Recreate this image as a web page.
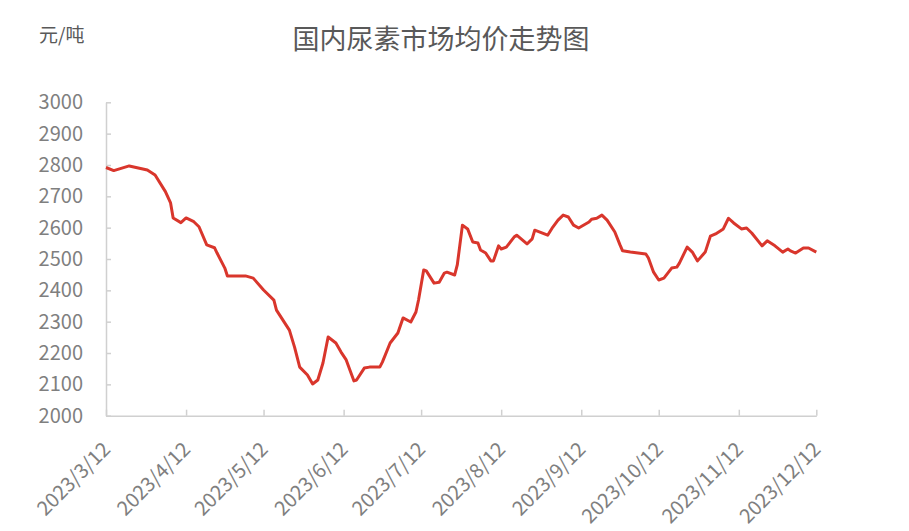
<!DOCTYPE html>
<html>
<head>
<meta charset="utf-8">
<script src="https://cdn.jsdelivr.net/npm/d3@7"></script>
<style>
  body { margin: 0; background: #fff; }
  text { font-family: "Noto Sans CJK SC", "Noto Sans", sans-serif; }
</style>
</head>
<body>
<script>
// Canvas config
const config = { width: 909, height: 531 };

// Data
const dates = [
  "2023-03-12", "2023-03-15", "2023-03-21", "2023-03-28", "2023-03-31",
  "2023-04-04", "2023-04-06", "2023-04-07", "2023-04-10", "2023-04-12",
  "2023-04-15", "2023-04-17", "2023-04-20", "2023-04-23", "2023-04-24",
  "2023-04-27", "2023-04-28", "2023-05-05", "2023-05-08", "2023-05-12",
  "2023-05-16", "2023-05-17", "2023-05-22", "2023-05-24", "2023-05-26",
  "2023-05-29", "2023-05-31", "2023-06-02", "2023-06-04", "2023-06-06",
  "2023-06-09", "2023-06-11", "2023-06-13", "2023-06-16", "2023-06-17",
  "2023-06-20", "2023-06-22", "2023-06-26", "2023-06-27", "2023-06-30",
  "2023-07-03", "2023-07-05", "2023-07-08", "2023-07-10", "2023-07-11",
  "2023-07-13", "2023-07-14", "2023-07-17", "2023-07-19", "2023-07-21",
  "2023-07-22", "2023-07-25", "2023-07-26", "2023-07-28", "2023-07-30",
  "2023-08-01", "2023-08-03", "2023-08-04", "2023-08-06", "2023-08-08",
  "2023-08-09", "2023-08-11", "2023-08-12", "2023-08-14", "2023-08-17",
  "2023-08-18", "2023-08-22", "2023-08-24", "2023-08-25", "2023-08-27",
  "2023-08-30", "2023-09-01", "2023-09-03", "2023-09-05", "2023-09-07",
  "2023-09-09", "2023-09-11", "2023-09-15", "2023-09-16", "2023-09-18",
  "2023-09-20", "2023-09-22", "2023-09-25", "2023-09-27", "2023-09-28",
  "2023-10-01", "2023-10-07", "2023-10-08", "2023-10-10", "2023-10-12",
  "2023-10-14", "2023-10-17", "2023-10-19", "2023-10-20", "2023-10-23",
  "2023-10-25", "2023-10-27", "2023-10-30", "2023-11-01", "2023-11-03",
  "2023-11-06", "2023-11-08", "2023-11-10", "2023-11-13", "2023-11-15",
  "2023-11-17", "2023-11-21", "2023-11-23", "2023-11-26", "2023-11-29",
  "2023-12-01", "2023-12-02", "2023-12-04", "2023-12-07", "2023-12-09",
  "2023-12-12"
];
const prices = [
  2792, 2782, 2797, 2784, 2768,
  2715, 2679, 2631, 2616, 2631,
  2619, 2603, 2545, 2536, 2519,
  2471, 2446, 2446, 2439, 2401,
  2369, 2337, 2273, 2219, 2155,
  2130, 2101, 2114, 2168, 2251,
  2232, 2203, 2178, 2111, 2114,
  2152, 2155, 2155, 2171, 2232,
  2264, 2312, 2299, 2331, 2369,
  2465, 2462, 2423, 2426, 2455,
  2458, 2449, 2481, 2608, 2596,
  2554, 2551, 2529, 2519, 2494,
  2494, 2542, 2532, 2538, 2570,
  2576, 2548, 2564, 2592, 2586,
  2576, 2602, 2624, 2640, 2634,
  2608, 2599, 2618, 2627, 2630,
  2640, 2624, 2586, 2545, 2526,
  2522, 2516, 2503, 2458, 2433,
  2439, 2471, 2474, 2487, 2538,
  2522, 2494, 2522, 2573, 2580,
  2596, 2630, 2615, 2596, 2599,
  2583, 2542, 2558, 2542, 2522,
  2532, 2526, 2519, 2535, 2535,
  2522
];
const xTickLabels = [
  "2023/3/12", "2023/4/12", "2023/5/12", "2023/6/12", "2023/7/12",
  "2023/8/12", "2023/9/12", "2023/10/12", "2023/11/12", "2023/12/12"
];
const yTicks = [2000, 2100, 2200, 2300, 2400, 2500, 2600, 2700, 2800, 2900, 3000];
const title = "国内尿素市场均价走势图";
const unit = "元/吨";

const parse = d3.timeParse("%Y-%m-%d");
const series = dates.map((d, i) => ({ date: parse(d), value: prices[i] }));
const tickDates = xTickLabels.map(s => d3.timeParse("%Y/%m/%d")(s));

// Plot area
const plot = { left: 106, right: 816.3, top: 102.3, bottom: 415.7 };

const svg = d3
  .select("body")
  .append("svg")
  .attr("width", config.width)
  .attr("height", config.height);

const x = d3
  .scaleTime()
  .domain([tickDates[0], tickDates[tickDates.length - 1]])
  .range([plot.left, plot.right]);

const y = d3
  .scaleLinear()
  .domain([2000, 3000])
  .range([plot.bottom, plot.top]);

const axisColor = "#d0d0d0";
const labelColor = "#7f7f7f";

// Y axis, ticks point inward
const yAxis = svg
  .append("g")
  .attr("transform", `translate(${plot.left},0)`)
  .call(
    d3
      .axisLeft(y)
      .tickValues(yTicks)
      .tickSizeInner(-5)
      .tickSizeOuter(0)
      .tickPadding(23)
      .tickFormat(d3.format("d"))
  );
yAxis.select(".domain").attr("stroke", axisColor).attr("stroke-width", 1.5);
yAxis.selectAll(".tick line").attr("stroke", axisColor).attr("stroke-width", 1.5);
yAxis
  .selectAll(".tick text")
  .attr("fill", labelColor)
  .attr("font-size", 20)
  .attr("font-family", "Noto Sans CJK SC");

// X axis, ticks point up
const xAxis = svg
  .append("g")
  .attr("transform", `translate(0,${plot.bottom})`)
  .call(
    d3
      .axisBottom(x)
      .tickValues(tickDates)
      .tickSizeInner(-6)
      .tickSizeOuter(0)
      .tickFormat((d, i) => xTickLabels[i])
  );
xAxis.select(".domain").attr("stroke", axisColor).attr("stroke-width", 1.5);
xAxis.selectAll(".tick line").attr("stroke", axisColor).attr("stroke-width", 1.5);
xAxis
  .selectAll(".tick text")
  .attr("fill", labelColor)
  .attr("font-size", 20)
  .attr("font-family", "Noto Sans CJK SC")
  .attr("text-anchor", "end")
  .attr("x", 0)
  .attr("y", 0)
  .attr("dy", 0)
  .attr("transform", "translate(5,35) rotate(-45)");

// Price line
const line = d3
  .line()
  .x(d => x(d.date))
  .y(d => y(d.value))
  .curve(d3.curveLinear);

svg
  .append("path")
  .datum(series)
  .attr("fill", "none")
  .attr("stroke", "#d9362c")
  .attr("stroke-width", 3)
  .attr("stroke-linejoin", "round")
  .attr("d", line);

// Title and unit
svg
  .append("text")
  .attr("x", 441)
  .attr("y", 49)
  .attr("text-anchor", "middle")
  .attr("font-size", 27)
  .attr("fill", "#595959")
  .text(title);

svg
  .append("text")
  .attr("x", 39)
  .attr("y", 42)
  .attr("font-size", 19)
  .attr("fill", "#595959")
  .text(unit);
</script>
</body>
</html>
